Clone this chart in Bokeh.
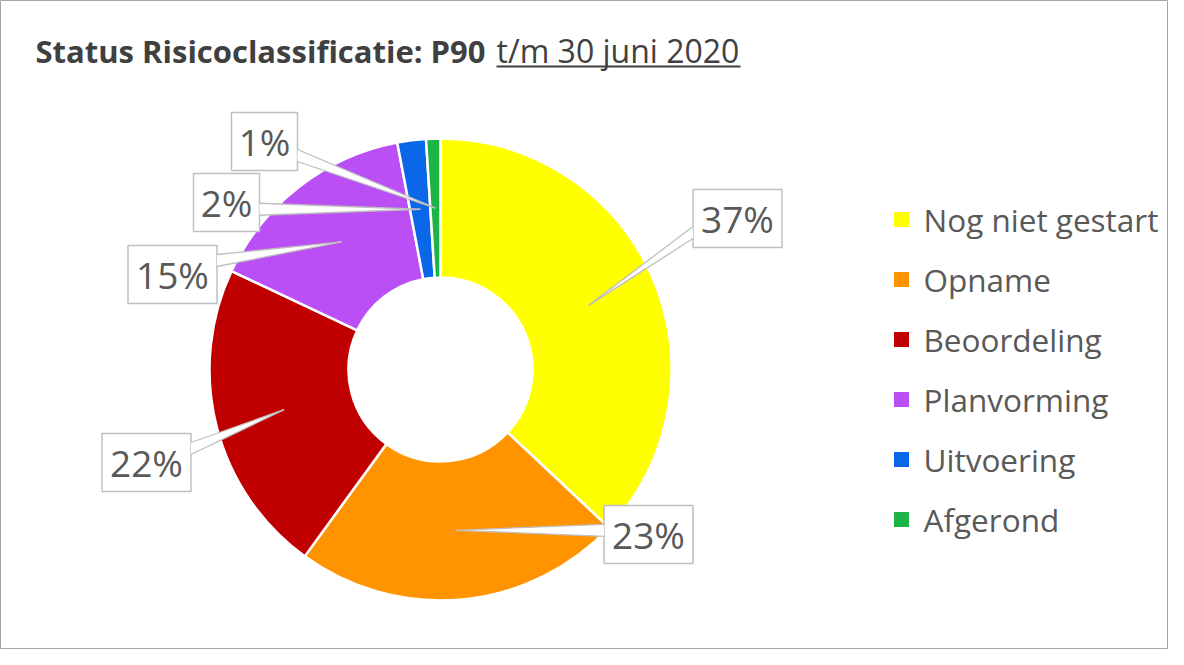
import numpy as np
from bokeh.plotting import figure
from bokeh.models import ColumnDataSource, Range1d, Label
from bokeh.core.properties import value
from bokeh.embed import file_html
from bokeh.resources import INLINE

# ---- data ----
categories = ["Nog niet gestart", "Opname", "Beoordeling", "Planvorming", "Uitvoering", "Afgerond"]
percentages = [37, 23, 22, 15, 2, 1]
colors = ["#FFFF00", "#FF9300", "#C00000", "#B94FF5", "#0A68E8", "#1DB447"]
title_bold = "Status Risicoclassificatie: P90"
title_rest = "t/m 30 juni 2020"

# ---- layout (screen pixel coordinates) ----
W, H = 1168, 649
def Y(py):
    return H - py

CX, CY = 440, 369
R_IN, R_OUT = 92, 231
# callout box centres (screen px) for each slice label
box_centres = [(737, 218), (648, 534), (146, 462), (172, 274), (226, 202), (264, 141)]
BOX_H = 58
TEXT_COL = "#595959"
FONT = "Open Sans"

p = figure(width=W, height=H, x_range=Range1d(0, W), y_range=Range1d(0, H),
           x_axis_type=None, y_axis_type=None, output_backend="svg",
           toolbar_location=None, min_border=0)
p.grid.visible = False
p.outline_line_color = "#A6A6A6"
p.outline_line_width = 1
p.background_fill_color = "white"
p.border_fill_color = "white"

# ---- donut ----
vals = np.array(percentages, dtype=float)
total = vals.sum()
cum = np.concatenate([[0.0], np.cumsum(vals)])
start = np.pi / 2 - 2 * np.pi * cum[:-1] / total
end = np.pi / 2 - 2 * np.pi * cum[1:] / total
mid = (start + end) / 2

src = ColumnDataSource(dict(start=start, end=end, color=colors, cat=categories))
p.annular_wedge(x=CX, y=Y(CY), inner_radius=R_IN, outer_radius=R_OUT,
                start_angle="start", end_angle="end", direction="clock",
                fill_color="color", line_color="white", line_width=2.5, source=src)

# ---- callouts ----
labels = [f"{int(round(v))}%" for v in percentages]
r_tip = (R_IN + R_OUT) / 2
tip_x = CX + r_tip * np.cos(mid)
tip_py = CY - r_tip * np.sin(mid)

bx, by, bw = [], [], []
px_list, py_list, lx, ly = [], [], [], []
for i, lab in enumerate(labels):
    cxp, cyp = box_centres[i]
    w = 20 + 23 * len(lab)
    bx.append(cxp); by.append(Y(cyp)); bw.append(w)
    top, bot = cyp - BOX_H / 2, cyp + BOX_H / 2
    edge = cxp - w / 2 if tip_x[i] < cxp else cxp + w / 2
    bc = min(max(tip_py[i], top + 15), bot - 15)
    pts_x = [edge, edge, tip_x[i]]
    pts_y = [Y(bc - 6), Y(bc + 6), Y(tip_py[i])]
    px_list.append(pts_x); py_list.append(pts_y)
    lx += [[edge, tip_x[i]], [edge, tip_x[i]]]
    ly += [[Y(bc - 6), Y(tip_py[i])], [Y(bc + 6), Y(tip_py[i])]]

p.rect(x=bx, y=by, width=bw, height=BOX_H, fill_color="white",
       line_color="#BFBFBF", line_width=1.5)
p.patches(xs=px_list, ys=py_list, fill_color="white", line_color=None)
p.multi_line(xs=lx, ys=ly, line_color="#BFBFBF", line_width=1.3)
p.text(x=bx, y=by, text=labels, text_align="center", text_baseline="middle",
       text_font=value(FONT), text_font_size="37px", text_color=TEXT_COL)

# ---- legend ----
leg_y = [Y(219 + 60 * i) for i in range(len(categories))]
p.scatter(x=[901] * len(categories), y=leg_y, marker="square", size=15,
          fill_color=colors, line_color=None)
p.text(x=[923] * len(categories), y=leg_y, text=categories, text_align="left",
       text_baseline="middle", text_font=value(FONT), text_font_size="31.5px",
       text_color=TEXT_COL)

# ---- title ----
p.add_layout(Label(x=35, y=Y(50), text=title_bold, text_font=FONT, text_font_style="bold",
                   text_font_size="31px", text_color="#404040", text_baseline="alphabetic"))
p.add_layout(Label(x=496, y=Y(50), text=title_rest, text_font=FONT,
                   text_font_size="32px", text_color="#404040", text_baseline="alphabetic"))
p.line(x=[496, 740], y=[Y(66), Y(66)], line_color="#404040", line_width=2)

open("out.html", "w").write(file_html(p, INLINE))
